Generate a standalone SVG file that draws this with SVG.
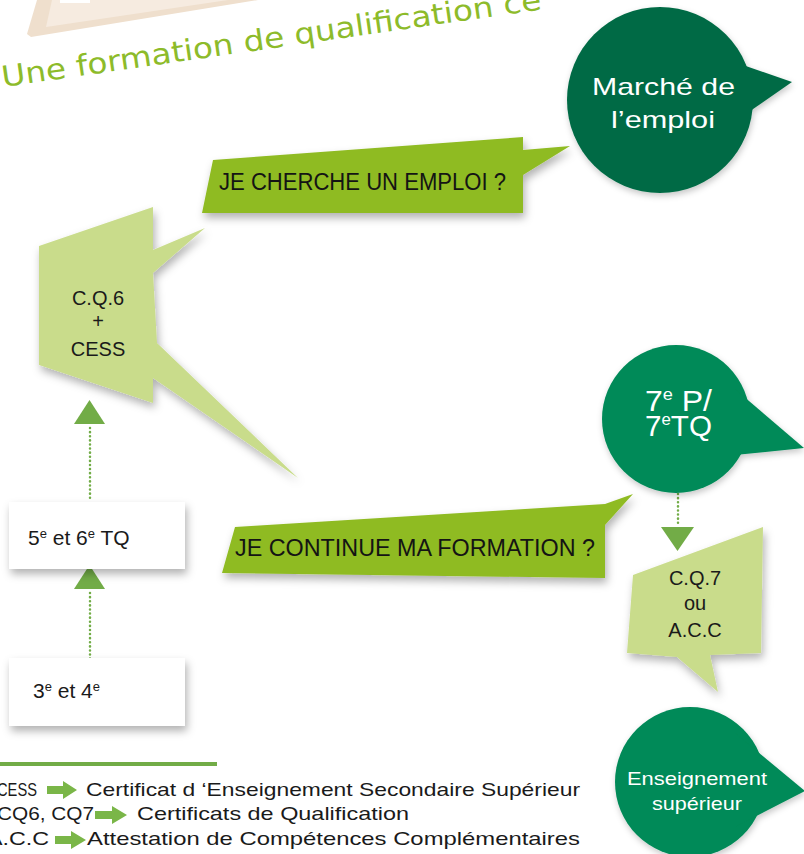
<svg xmlns="http://www.w3.org/2000/svg" width="804" height="854" viewBox="0 0 804 854">
<defs>
<filter id="sh" x="-20%" y="-20%" width="150%" height="160%"><feDropShadow dx="2" dy="5" stdDeviation="4" flood-color="#000" flood-opacity="0.3"/></filter>
<filter id="shs" x="-20%" y="-20%" width="150%" height="160%"><feDropShadow dx="1" dy="3" stdDeviation="3" flood-color="#000" flood-opacity="0.22"/></filter>
</defs>
<style>
.f{font-family:"Liberation Sans",Arial,sans-serif;}
.banner{fill:#8FBB24;}
.light{fill:#C9DC8B;}
.dark{fill:#056B45;}
.mid{fill:#018A58;}
.box{fill:#ffffff;}
.dot{stroke:#72AC47;stroke-width:2.5;stroke-dasharray:0.1 4;stroke-linecap:round;fill:none;}
.tri{fill:#72AC47;}
.tb{font-size:23px;fill:#141414;}
.tl{font-size:20px;fill:#1a1a1a;text-anchor:middle;}
.tw{fill:#ffffff;}
.tk{font-size:21px;fill:#1a1a1a;}
.lg{font-size:19px;fill:#1a1a1a;}
.arr{fill:#7AB648;}
</style>
<rect width="804" height="854" fill="#ffffff"/>

<g id="title">
<polygon points="37,0 258,0 31,37 27,34" fill="#EFDFCD"/>
<polygon points="52,0 228,0 46,27" fill="#F6EBE0"/>
<rect x="60" y="0" width="30" height="3" fill="#ffffff"/>
<text transform="translate(3,87) rotate(-8.2)" x="0" y="0" font-family="DejaVu Sans, sans-serif" font-size="29" fill="#8DBB2A" textLength="545" lengthAdjust="spacingAndGlyphs">Une formation de qualification ce</text>
</g>

<g id="connectors">
<line class="dot" x1="90" y1="428" x2="90" y2="500"/>
<polygon class="tri" points="74,424 105,424 89.5,400"/>
<line class="dot" x1="90" y1="593" x2="90" y2="659"/>
<polygon class="tri" points="74,589 105,589 89.5,565"/>
<line class="dot" x1="678" y1="494" x2="678" y2="523"/>
<polygon class="tri" points="661,527 694,527 677.5,551"/>
</g>

<g id="marche">
<g filter="url(#shs)">
<circle class="dark" cx="660" cy="100" r="93"/>
<polygon class="dark" points="720,57 792,82 730,125"/>
</g>
<text class="f tw" x="592" y="95" font-size="24" textLength="143" lengthAdjust="spacingAndGlyphs">Marché de</text>
<text class="f tw" x="611" y="128" font-size="24" textLength="104" lengthAdjust="spacingAndGlyphs">l’emploi</text>
</g>

<g id="cherche">
<polygon class="banner" filter="url(#sh)" points="213,160 523,137 523,150 570,146 523,175 523,213 202,213"/>
<text class="f tb" x="219" y="190" textLength="287" lengthAdjust="spacingAndGlyphs">JE CHERCHE UN EMPLOI ?</text>
</g>

<g id="cq6">
<polygon class="light" filter="url(#sh)" points="39,246 153,207 153,250 205,228 153,273 157,343 298,478 153,378 153,403 39,365"/>
<text class="f tl" x="98" y="305">C.Q.6</text>
<text class="f tl" x="98" y="328">+</text>
<text class="f tl" x="98" y="356">CESS</text>
</g>

<g id="tq56">
<rect class="box" filter="url(#sh)" x="9" y="502" width="176" height="67"/>
<text class="f tk" x="28" y="545">5<tspan font-size="13" dy="-7">e</tspan><tspan dy="7"> et 6</tspan><tspan font-size="13" dy="-7">e</tspan><tspan dy="7"> TQ</tspan></text>
</g>

<g id="g34">
<rect class="box" filter="url(#sh)" x="9" y="658" width="176" height="68"/>
<text class="f tk" x="33" y="698">3<tspan font-size="13" dy="-7">e</tspan><tspan dy="7"> et 4</tspan><tspan font-size="13" dy="-7">e</tspan></text>
</g>

<g id="continue">
<polygon class="banner" filter="url(#sh)" points="235,527 605,504 633,494 605,525 605,578 222,573"/>
<text class="f tb" x="235" y="556" textLength="360" lengthAdjust="spacingAndGlyphs">JE CONTINUE MA FORMATION ?</text>
</g>

<g id="p7">
<g filter="url(#shs)">
<circle class="mid" cx="676" cy="419" r="74"/>
<polygon class="mid" points="735,389 804,448 735,455"/>
</g>
<text class="f tw" x="645" y="411" font-size="30" textLength="67" lengthAdjust="spacingAndGlyphs">7<tspan font-size="17" dy="-11">e</tspan><tspan dy="11"> P/</tspan></text>
<text class="f tw" x="645" y="436" font-size="30" textLength="67" lengthAdjust="spacingAndGlyphs">7<tspan font-size="17" dy="-11">e</tspan><tspan dy="11">TQ</tspan></text>
</g>

<g id="cq7">
<polygon class="light" filter="url(#sh)" points="633,575 763,527 761,653 710,655 718,692 677,657 627,653"/>
<text class="f tl" x="695" y="585">C.Q.7</text>
<text class="f tl" x="695" y="610">ou</text>
<text class="f tl" x="695" y="637">A.C.C</text>
</g>

<g id="superieur">
<g filter="url(#shs)">
<circle class="mid" cx="690" cy="782" r="75"/>
<polygon class="mid" points="735,733 805,791 735,827"/>
</g>
<text class="f tw" x="627" y="785" font-size="19" textLength="140" lengthAdjust="spacingAndGlyphs">Enseignement</text>
<text class="f tw" x="652" y="810" font-size="19" textLength="90" lengthAdjust="spacingAndGlyphs">supérieur</text>
</g>

<g id="legend">
<line x1="0" y1="764" x2="217" y2="764" stroke="#72AC47" stroke-width="4"/>
<text class="f lg" x="-3" y="796" textLength="40" lengthAdjust="spacingAndGlyphs">CESS</text>
<path class="arr" d="M47,786 H63 V781 L77,790 L63,799 V794 H47 Z"/>
<text class="f lg" x="86" y="796" textLength="494" lengthAdjust="spacingAndGlyphs">Certificat d ‘Enseignement Secondaire Supérieur</text>
<text class="f lg" x="-3" y="820" textLength="97" lengthAdjust="spacingAndGlyphs">CQ6, CQ7</text>
<path class="arr" d="M95,811 H112 V806 L127,815 L112,824 V819 H95 Z"/>
<text class="f lg" x="137" y="820" textLength="272" lengthAdjust="spacingAndGlyphs">Certificats de Qualification</text>
<text class="f lg" x="-13" y="845" textLength="62" lengthAdjust="spacingAndGlyphs">A.C.C</text>
<path class="arr" d="M55,836 H71 V831 L86,840 L71,849 V844 H55 Z"/>
<text class="f lg" x="87" y="845" textLength="493" lengthAdjust="spacingAndGlyphs">Attestation de Compétences Complémentaires</text>
</g>
</svg>
